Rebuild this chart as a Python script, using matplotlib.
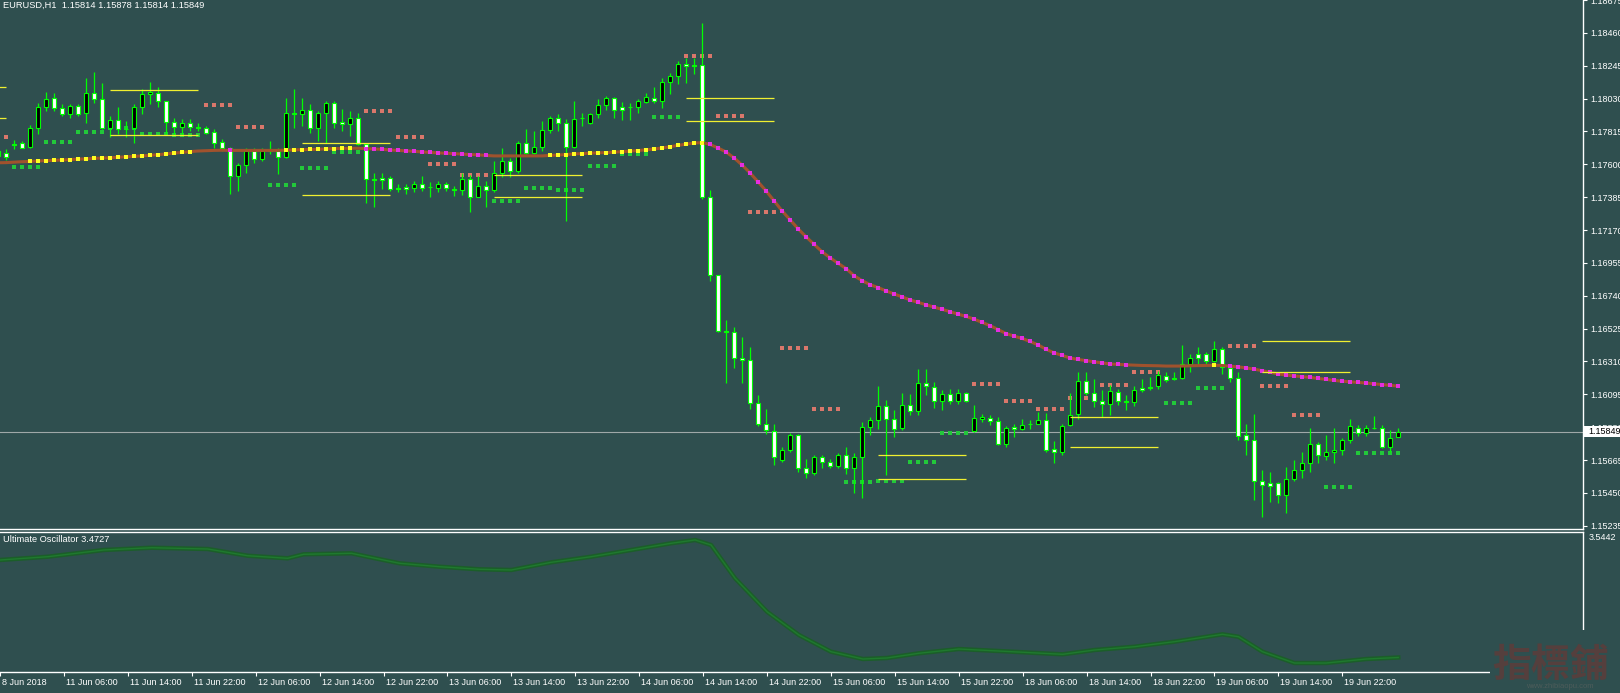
import matplotlib
matplotlib.use("Agg")
import matplotlib.pyplot as plt
from matplotlib.patches import Rectangle
from matplotlib.transforms import ScaledTranslation

plt.rcParams['font.family'] = ['Liberation Sans', 'DejaVu Sans']

BG = '#2f4f4f'
FG = 'white'
LIME = '#00ff00'
W, H = 1620, 693

# EURUSD H1, bar 0 = 8 Jun 2018 22:00
opens = [
    1.17688, 1.17673, 1.17733, 1.17742, 1.17714, 1.17840, 1.17977, 1.18032, 1.17967, 1.17927,
    1.17982, 1.17934, 1.18064, 1.18025, 1.17840, 1.17888, 1.17831, 1.17836, 1.17977, 1.18058,
    1.18068, 1.18014, 1.17879, 1.17846, 1.17873, 1.17841, 1.17840, 1.17814, 1.17747, 1.17705,
    1.17525, 1.17594, 1.17688, 1.17638, 1.17688, 1.17688, 1.17651, 1.17934, 1.17927, 1.17953,
    1.17840, 1.17934, 1.17999, 1.17877, 1.17862, 1.17901, 1.17732, 1.17503, 1.17513, 1.17513,
    1.17443, 1.17453, 1.17448, 1.17474, 1.17453, 1.17442, 1.17470, 1.17438, 1.17431, 1.17503,
    1.17389, 1.17459, 1.17431, 1.17540, 1.17623, 1.17553, 1.17738, 1.17673, 1.17714, 1.17825,
    1.17901, 1.17869, 1.17716, 1.17905, 1.17869, 1.17927, 1.17986, 1.18032, 1.17975, 1.17977,
    1.17977, 1.18010, 1.18036, 1.18014, 1.18138, 1.18177, 1.18258, 1.18249, 1.18247, 1.17388,
    1.16876, 1.16508, 1.16502, 1.16335, 1.16321, 1.16041, 1.15904, 1.15855, 1.15664, 1.15734,
    1.15827, 1.15616, 1.15581, 1.15682, 1.15653, 1.15627, 1.15697, 1.15610, 1.15682, 1.15882,
    1.15925, 1.16019, 1.15936, 1.15878, 1.16023, 1.15986, 1.16169, 1.16143, 1.16051, 1.16100,
    1.16051, 1.16103, 1.15855, 1.15936, 1.15940, 1.15921, 1.15773, 1.15882, 1.15865, 1.15904,
    1.15904, 1.15925, 1.15740, 1.15718, 1.15893, 1.15969, 1.16180, 1.16103, 1.16051, 1.16034,
    1.16108, 1.16049, 1.16045, 1.16139, 1.16143, 1.16147, 1.16212, 1.16201, 1.16201, 1.16295,
    1.16356, 1.16356, 1.16312, 1.16393, 1.16269, 1.16204, 1.15827, 1.15799, 1.15529, 1.15516,
    1.15512, 1.15436, 1.15538, 1.15603, 1.15643, 1.15773, 1.15692, 1.15718, 1.15734, 1.15799,
    1.15878, 1.15845, 1.15878, 1.15878, 1.15751, 1.15814,
]
highs = [
    1.17714, 1.17699, 1.17758, 1.17753, 1.17856, 1.18003, 1.18073, 1.18064, 1.17993, 1.17997,
    1.17997, 1.18162, 1.18205, 1.18134, 1.17916, 1.17977, 1.17884, 1.17993, 1.18091, 1.18140,
    1.18106, 1.18016, 1.17905, 1.17895, 1.17895, 1.17869, 1.17851, 1.17829, 1.17766, 1.17714,
    1.17611, 1.17705, 1.17705, 1.17705, 1.17753, 1.17705, 1.18036, 1.18091, 1.18036, 1.17993,
    1.17949, 1.18014, 1.18014, 1.17960, 1.17949, 1.17938, 1.17742, 1.17546, 1.17546, 1.17525,
    1.17470, 1.17474, 1.17492, 1.17525, 1.17481, 1.17492, 1.17481, 1.17459, 1.17546, 1.17531,
    1.17525, 1.17492, 1.17623, 1.17709, 1.17644, 1.17753, 1.17829, 1.17818, 1.17884, 1.17916,
    1.17927, 1.17895, 1.18014, 1.17938, 1.17938, 1.18025, 1.18047, 1.18040, 1.18010, 1.18003,
    1.18025, 1.18068, 1.18106, 1.18166, 1.18199, 1.18275, 1.18297, 1.18297, 1.18525, 1.17431,
    1.16878, 1.16583, 1.16534, 1.16469, 1.16408, 1.16093, 1.16002, 1.15904, 1.15751, 1.15842,
    1.15838, 1.15675, 1.15697, 1.15697, 1.15675, 1.15708, 1.15751, 1.15708, 1.15914, 1.15947,
    1.16147, 1.16060, 1.15991, 1.16106, 1.16100, 1.16263, 1.16263, 1.16175, 1.16121, 1.16132,
    1.16132, 1.16110, 1.16023, 1.15964, 1.15958, 1.15947, 1.15886, 1.15904, 1.15936, 1.15925,
    1.15979, 1.15973, 1.15790, 1.15904, 1.16103, 1.16241, 1.16241, 1.16197, 1.16121, 1.16154,
    1.16132, 1.16088, 1.16147, 1.16197, 1.16208, 1.16245, 1.16241, 1.16241, 1.16415, 1.16361,
    1.16404, 1.16371, 1.16443, 1.16404, 1.16284, 1.16241, 1.15904, 1.15969, 1.15599, 1.15588,
    1.15522, 1.15620, 1.15664, 1.15718, 1.15878, 1.15784, 1.15827, 1.15878, 1.15812, 1.15936,
    1.15893, 1.15893, 1.15951, 1.15893, 1.15860, 1.15878,
]
lows = [
    1.17623, 1.17629, 1.17699, 1.17705, 1.17705, 1.17797, 1.17949, 1.17949, 1.17916, 1.17901,
    1.17916, 1.17873, 1.18003, 1.17829, 1.17779, 1.17797, 1.17779, 1.17742, 1.17927, 1.17993,
    1.17975, 1.17797, 1.17786, 1.17786, 1.17818, 1.17818, 1.17799, 1.17709, 1.17688, 1.17405,
    1.17427, 1.17546, 1.17611, 1.17623, 1.17668, 1.17536, 1.17644, 1.17840, 1.17851, 1.17807,
    1.17753, 1.17742, 1.17840, 1.17818, 1.17786, 1.17725, 1.17350, 1.17318, 1.17438, 1.17427,
    1.17416, 1.17405, 1.17416, 1.17427, 1.17388, 1.17422, 1.17427, 1.17394, 1.17401, 1.17285,
    1.17383, 1.17318, 1.17422, 1.17518, 1.17514, 1.17546, 1.17666, 1.17666, 1.17688, 1.17807,
    1.17818, 1.17231, 1.17709, 1.17851, 1.17862, 1.17905, 1.17953, 1.17905, 1.17888, 1.17888,
    1.17938, 1.18003, 1.18003, 1.17967, 1.18058, 1.18123, 1.18134, 1.18188, 1.17372, 1.16835,
    1.16502, 1.16169, 1.16269, 1.16169, 1.16002, 1.15888, 1.15834, 1.15631, 1.15653, 1.15718,
    1.15588, 1.15545, 1.15566, 1.15610, 1.15610, 1.15610, 1.15577, 1.15447, 1.15414, 1.15827,
    1.15865, 1.15566, 1.15816, 1.15860, 1.15958, 1.15958, 1.16088, 1.16008, 1.15995, 1.16034,
    1.16034, 1.16045, 1.15849, 1.15914, 1.15893, 1.15762, 1.15751, 1.15816, 1.15860, 1.15871,
    1.15902, 1.15718, 1.15643, 1.15697, 1.15890, 1.15936, 1.16088, 1.16012, 1.15947, 1.15958,
    1.16023, 1.15995, 1.16017, 1.16110, 1.16121, 1.16132, 1.16175, 1.16186, 1.16197, 1.16241,
    1.16284, 1.16295, 1.16306, 1.16230, 1.16175, 1.15799, 1.15697, 1.15403, 1.15294, 1.15392,
    1.15381, 1.15320, 1.15529, 1.15545, 1.15588, 1.15643, 1.15664, 1.15643, 1.15697, 1.15777,
    1.15821, 1.15821, 1.15865, 1.15747, 1.15718, 1.15814,
]
closes = [
    1.17655, 1.17651, 1.17727, 1.17709, 1.17840, 1.17977, 1.18025, 1.17967, 1.17927, 1.17982,
    1.17931, 1.18064, 1.18025, 1.17836, 1.17888, 1.17829, 1.17828, 1.17977, 1.18058, 1.18073,
    1.18014, 1.17879, 1.17846, 1.17873, 1.17846, 1.17838, 1.17807, 1.17742, 1.17705, 1.17525,
    1.17594, 1.17688, 1.17638, 1.17688, 1.17691, 1.17651, 1.17934, 1.17931, 1.17953, 1.17840,
    1.17934, 1.17999, 1.17873, 1.17862, 1.17901, 1.17732, 1.17503, 1.17500, 1.17497, 1.17438,
    1.17440, 1.17438, 1.17474, 1.17448, 1.17450, 1.17470, 1.17442, 1.17435, 1.17503, 1.17389,
    1.17459, 1.17431, 1.17540, 1.17623, 1.17553, 1.17738, 1.17673, 1.17714, 1.17825, 1.17901,
    1.17869, 1.17716, 1.17895, 1.17902, 1.17927, 1.17986, 1.18032, 1.17953, 1.17953, 1.17974,
    1.18014, 1.18040, 1.18014, 1.18138, 1.18177, 1.18258, 1.18243, 1.18246, 1.17383, 1.16876,
    1.16508, 1.16505, 1.16335, 1.16321, 1.16041, 1.15904, 1.15860, 1.15682, 1.15734, 1.15827,
    1.15616, 1.15581, 1.15682, 1.15653, 1.15627, 1.15697, 1.15610, 1.15682, 1.15882, 1.15925,
    1.16019, 1.15936, 1.15871, 1.16023, 1.15986, 1.16169, 1.16147, 1.16051, 1.16100, 1.16051,
    1.16103, 1.16051, 1.15943, 1.15947, 1.15921, 1.15773, 1.15878, 1.15865, 1.15897, 1.15900,
    1.15925, 1.15734, 1.15718, 1.15888, 1.15962, 1.16180, 1.16103, 1.16049, 1.16034, 1.16115,
    1.16049, 1.16046, 1.16126, 1.16121, 1.16139, 1.16219, 1.16191, 1.16198, 1.16291, 1.16335,
    1.16335, 1.16312, 1.16393, 1.16273, 1.16204, 1.15821, 1.15799, 1.15529, 1.15501, 1.15494,
    1.15436, 1.15538, 1.15603, 1.15643, 1.15773, 1.15697, 1.15718, 1.15734, 1.15799, 1.15888,
    1.15845, 1.15878, 1.15874, 1.15751, 1.15812, 1.15849,
]

# moving average (one value per bar) and its colour state segments
ma = [
    1.17610, 1.17611, 1.17614, 1.17617,
    1.17619, 1.17622, 1.17624, 1.17626, 1.17628, 1.17631, 1.17634, 1.17636, 1.17639, 1.17641,
    1.17643, 1.17646, 1.17649, 1.17652, 1.17655, 1.17659, 1.17663, 1.17668, 1.17673, 1.17678, 1.17683,
    1.17687, 1.17689, 1.17691, 1.17692,
    1.17691, 1.17691, 1.17691, 1.17691, 1.17691, 1.17691, 1.17691,
    1.17693, 1.17694, 1.17696, 1.17697, 1.17699, 1.17701, 1.17703, 1.17704, 1.17705,
    1.17705,
    1.17703, 1.17700, 1.17698, 1.17694, 1.17691, 1.17688, 1.17685, 1.17681, 1.17678, 1.17675,
    1.17672, 1.17670, 1.17667, 1.17664, 1.17662, 1.17658,
    1.17655, 1.17655, 1.17655, 1.17655, 1.17655, 1.17655, 1.17655,
    1.17658, 1.17661, 1.17664, 1.17668, 1.17670, 1.17673, 1.17675, 1.17677, 1.17679, 1.17683,
    1.17686, 1.17690, 1.17695, 1.17700, 1.17707, 1.17715, 1.17724, 1.17732, 1.17739, 1.17742,
    1.17730, 1.17707, 1.17681, 1.17642, 1.17596, 1.17544, 1.17485, 1.17427, 1.17361, 1.17296,
    1.17237, 1.17179, 1.17126, 1.17077, 1.17028, 1.16989, 1.16953, 1.16918, 1.16872, 1.16839,
    1.16813, 1.16794, 1.16772, 1.16752, 1.16733, 1.16713, 1.16697, 1.16681, 1.16666, 1.16651,
    1.16636, 1.16620, 1.16605, 1.16587, 1.16566, 1.16545, 1.16519, 1.16493, 1.16476, 1.16461,
    1.16441, 1.16419, 1.16390, 1.16367, 1.16350, 1.16333, 1.16323, 1.16316, 1.16308, 1.16301,
    1.16294, 1.16291, 1.16288,
    1.16286, 1.16284, 1.16283, 1.16282, 1.16280, 1.16280, 1.16280, 1.16282, 1.16283, 1.16284,
    1.16285, 1.16284,
    1.16279, 1.16275, 1.16268, 1.16260, 1.16250, 1.16239, 1.16229, 1.16221, 1.16216, 1.16211,
    1.16206, 1.16199, 1.16193, 1.16186, 1.16181, 1.16177, 1.16173, 1.16169, 1.16164, 1.16159,
    1.16154, 1.16149,
]
ma_seg_start = [0, 4, 25, 29, 30, 36, 45, 46, 62, 69, 89, 142, 152, 153, 154]
ma_seg_state = ['n', 'u', 'n', 'd', 'n', 'u', 'n', 'd', 'n', 'u', 'd', 'n', 'u', 'n', 'd']

# 4-bar pivot dots: start bar, level, kind (r = resistance, g = support)
piv_start = [-2, 2, 6, 10, 14, 18, 22, 26, 30, 34, 38, 42, 46, 50, 54, 58, 62, 66, 70, 74,
             78, 82, 86, 90, 94, 98, 102, 106, 110, 114, 118, 122, 126, 130, 134, 138, 142,
             146, 150, 154, 158, 162, 166, 170, 174]
piv_level = [1.17779, 1.17581, 1.17747, 1.17812, 1.17840, 1.17801, 1.17792, 1.17988, 1.17844,
             1.17464, 1.17575, 1.17681, 1.17947, 1.17777, 1.17601, 1.17533, 1.17359, 1.17444,
             1.17431, 1.17588, 1.17666, 1.17908, 1.18306, 1.17914, 1.17286, 1.16400, 1.16002,
             1.15519, 1.15529, 1.15653, 1.15842, 1.16165, 1.16054, 1.16002, 1.16073, 1.16158,
             1.16243, 1.16041, 1.16136, 1.16413, 1.16152, 1.15963, 1.15486, 1.15714, 1.15714]
piv_kind = ['r', 'g', 'g', 'g', 'g', 'g', 'g', 'r', 'r', 'g', 'g', 'g', 'r', 'r', 'r', 'r',
            'g', 'g', 'g', 'g', 'g', 'g', 'r', 'r', 'r', 'r', 'r', 'g', 'g', 'g', 'g', 'r',
            'r', 'r', 'r', 'r', 'r', 'g', 'g', 'r', 'r', 'r', 'g', 'g', 'g']

# daily range lines (yellow)
rng_from = [-10, 14, 38, 62, 86, 110, 134, 158]
rng_to = [1, 25, 49, 73, 97, 121, 145, 169]
rng_hi = [1.18106, 1.18084, 1.17738, 1.17529, 1.18037, 1.15701, 1.15947, 1.16446]
rng_lo = [1.17901, 1.17792, 1.17399, 1.17386, 1.17882, 1.15540, 1.15749, 1.16243]

# Ultimate Oscillator, read at these bars
osc_bar = [0, 6, 13, 19, 26, 31, 36, 38, 44, 46, 50, 55, 60, 64, 69, 74, 79, 84, 87, 89,
           92, 96, 100, 104, 108, 111, 115, 120, 125, 133, 137, 142, 147, 153, 155, 158,
           162, 166, 171, 175]
osc_val = [2.856, 2.940, 3.111, 3.169, 3.136, 2.965, 2.899, 3.001, 3.027, 2.940, 2.772,
           2.685, 2.619, 2.601, 2.797, 2.940, 3.111, 3.282, 3.366, 3.238, 2.389, 1.538,
           0.943, 0.518, 0.331, 0.357, 0.477, 0.586, 0.535, 0.451, 0.561, 0.645, 0.773,
           0.961, 0.900, 0.518, 0.229, 0.229, 0.331, 0.370]

price_ticks = [1.15235, 1.15450, 1.15665, 1.15880, 1.16095, 1.16310, 1.16525, 1.16740,
               1.16955, 1.17170, 1.17385, 1.17600, 1.17815, 1.18030, 1.18245, 1.18460, 1.18675]
time_ticks = [0, 8, 16, 24, 32, 40, 48, 56, 64, 72, 80, 88, 96, 104, 112, 120, 128, 136,
              144, 152, 160, 168]
time_labels = ['8 Jun 2018', '11 Jun 06:00', '11 Jun 14:00', '11 Jun 22:00', '12 Jun 06:00',
               '12 Jun 14:00', '12 Jun 22:00', '13 Jun 06:00', '13 Jun 14:00', '13 Jun 22:00',
               '14 Jun 06:00', '14 Jun 14:00', '14 Jun 22:00', '15 Jun 06:00', '15 Jun 14:00',
               '15 Jun 22:00', '18 Jun 06:00', '18 Jun 14:00', '18 Jun 22:00', '19 Jun 06:00',
               '19 Jun 14:00', '19 Jun 22:00']
last_price = 1.15849
osc_max = 3.5442


def fx(x):
    return x / W


def fy(y):
    return 1 - y / H


fig = plt.figure(figsize=(W / 100, H / 100), dpi=100, facecolor=BG)
ax = fig.add_axes([0, fy(529), fx(1583), 529 / H], facecolor=BG)
axo = fig.add_axes([0, fy(672), fx(1583), 140 / H], facecolor=BG)

n = len(closes)
bars = list(range(n))

# candles
ax.vlines(bars, lows, highs, colors=LIME, lw=0.9, zorder=3)
body_bottom = [min(o, c) for o, c in zip(opens, closes)]
body_h = [max(abs(c - o), 0.000005) for o, c in zip(opens, closes)]
fills = ['black' if c > o else 'white' for o, c in zip(opens, closes)]
ax.bar(bars, body_h, bottom=body_bottom, width=0.55, color=fills,
       edgecolor=LIME, linewidth=0.8, zorder=4)

# current price line
ax.axhline(last_price, color='#9fa8a8', lw=0.8, zorder=1)

# pivot dots
for s, lvl, k in zip(piv_start, piv_level, piv_kind):
    xs = [b for b in range(s, s + 4) if b < n]
    ax.plot(xs, [lvl] * len(xs), 's', ms=2.3, mew=0,
            color='#d9776b' if k == 'r' else '#22c83a', zorder=2)

# yellow range lines
ax.hlines(rng_hi, rng_from, rng_to, colors='#f0f030', lw=0.9, zorder=7)
ax.hlines(rng_lo, rng_from, rng_to, colors='#f0f030', lw=0.9, zorder=7)

# moving average with coloured dots
ax.plot(bars, ma, color='#a0522d', lw=2.2, zorder=6)
state = ['n'] * n
for j, st in enumerate(ma_seg_start):
    end = ma_seg_start[j + 1] if j + 1 < len(ma_seg_start) else n
    for b in range(st, end):
        state[b] = ma_seg_state[j]
up = [b for b in bars if state[b] == 'u']
dn = [b for b in bars if state[b] == 'd']
ax.plot(up, [ma[b] for b in up], 's', ms=2.4, mew=0, color='#ffff20', zorder=6.5)
ax.plot(dn, [ma[b] for b in dn], 's', ms=2.4, mew=0, color='#e52ee0', zorder=6.5)

ax.set_xlim(0.25, 198.125)
ax.set_ylim(1.15214, 1.18667)
ax.yaxis.tick_right()
ax.set_yticks(price_ticks)
ax.set_yticklabels(['%.5f' % p for p in price_ticks])
ax.tick_params(axis='y', colors=FG, labelsize=6.5, length=3, width=0.8, pad=2)
ax.set_xticks([])
for side in ['left', 'top']:
    ax.spines[side].set_visible(False)
for side in ['right', 'bottom']:
    ax.spines[side].set_color(FG)
    ax.spines[side].set_linewidth(1.0)

# oscillator panel
axo.plot(osc_bar, osc_val, color='#1a5f27', lw=3.2, alpha=0.95, zorder=2)
axo.plot(osc_bar, osc_val, color='#1f7a2e', lw=1.0, zorder=3)
axo.set_xlim(0.25, 198.125)
axo.set_ylim(0, 3.5697)
axo.set_yticks([])
axo.spines['left'].set_visible(False)
for side in ['right', 'top', 'bottom']:
    axo.spines[side].set_color(FG)
    axo.spines[side].set_linewidth(1.0)
axo.set_xticks(time_ticks)
axo.set_xticklabels(time_labels, ha='left')
axo.tick_params(axis='x', colors=FG, labelsize=6.5, length=3, width=0.8, pad=1)
for lab in axo.get_xticklabels():
    lab.set_transform(lab.get_transform() + ScaledTranslation(2 / 100, 0, fig.dpi_scale_trans))

# texts
fig.text(fx(3), fy(1), 'EURUSD,H1  1.15814 1.15878 1.15814 1.15849', color=FG,
         fontsize=6.7, va='top', ha='left')
fig.text(fx(3), fy(535), 'Ultimate Oscillator 3.4727', color=FG,
         fontsize=6.7, va='top', ha='left')
fig.text(fx(1589), fy(533), '%.4f' % osc_max, color=FG, fontsize=6.5, va='top', ha='left')

# current price tag
fig.patches.append(Rectangle((fx(1584), fy(437)), fx(1620) - fx(1584), 11 / H,
                             transform=fig.transFigure, facecolor='white',
                             edgecolor='none', zorder=5))
fig.text(fx(1588), fy(431.7), '%.5f' % last_price, color='black', fontsize=6.5,
         va='center', ha='left', zorder=6)

# watermark
fig.patches.append(Rectangle((fx(1490), 0), 1 - fx(1490), 63 / H,
                             transform=fig.transFigure, facecolor=BG,
                             edgecolor='none', zorder=5))
fig.text(fx(1551), fy(665), '指標鋪', color='#553f3d', fontsize=28,
         fontweight='bold', family=['Noto Sans CJK TC', 'DejaVu Sans'],
         va='center', ha='center', zorder=6)
fig.text(fx(1560), fy(687), 'www.zhibiaopu.com', color='#4d5c5a', fontsize=5.5,
         va='center', ha='center', zorder=6)

fig.savefig('out.png', dpi=100, facecolor=BG)
